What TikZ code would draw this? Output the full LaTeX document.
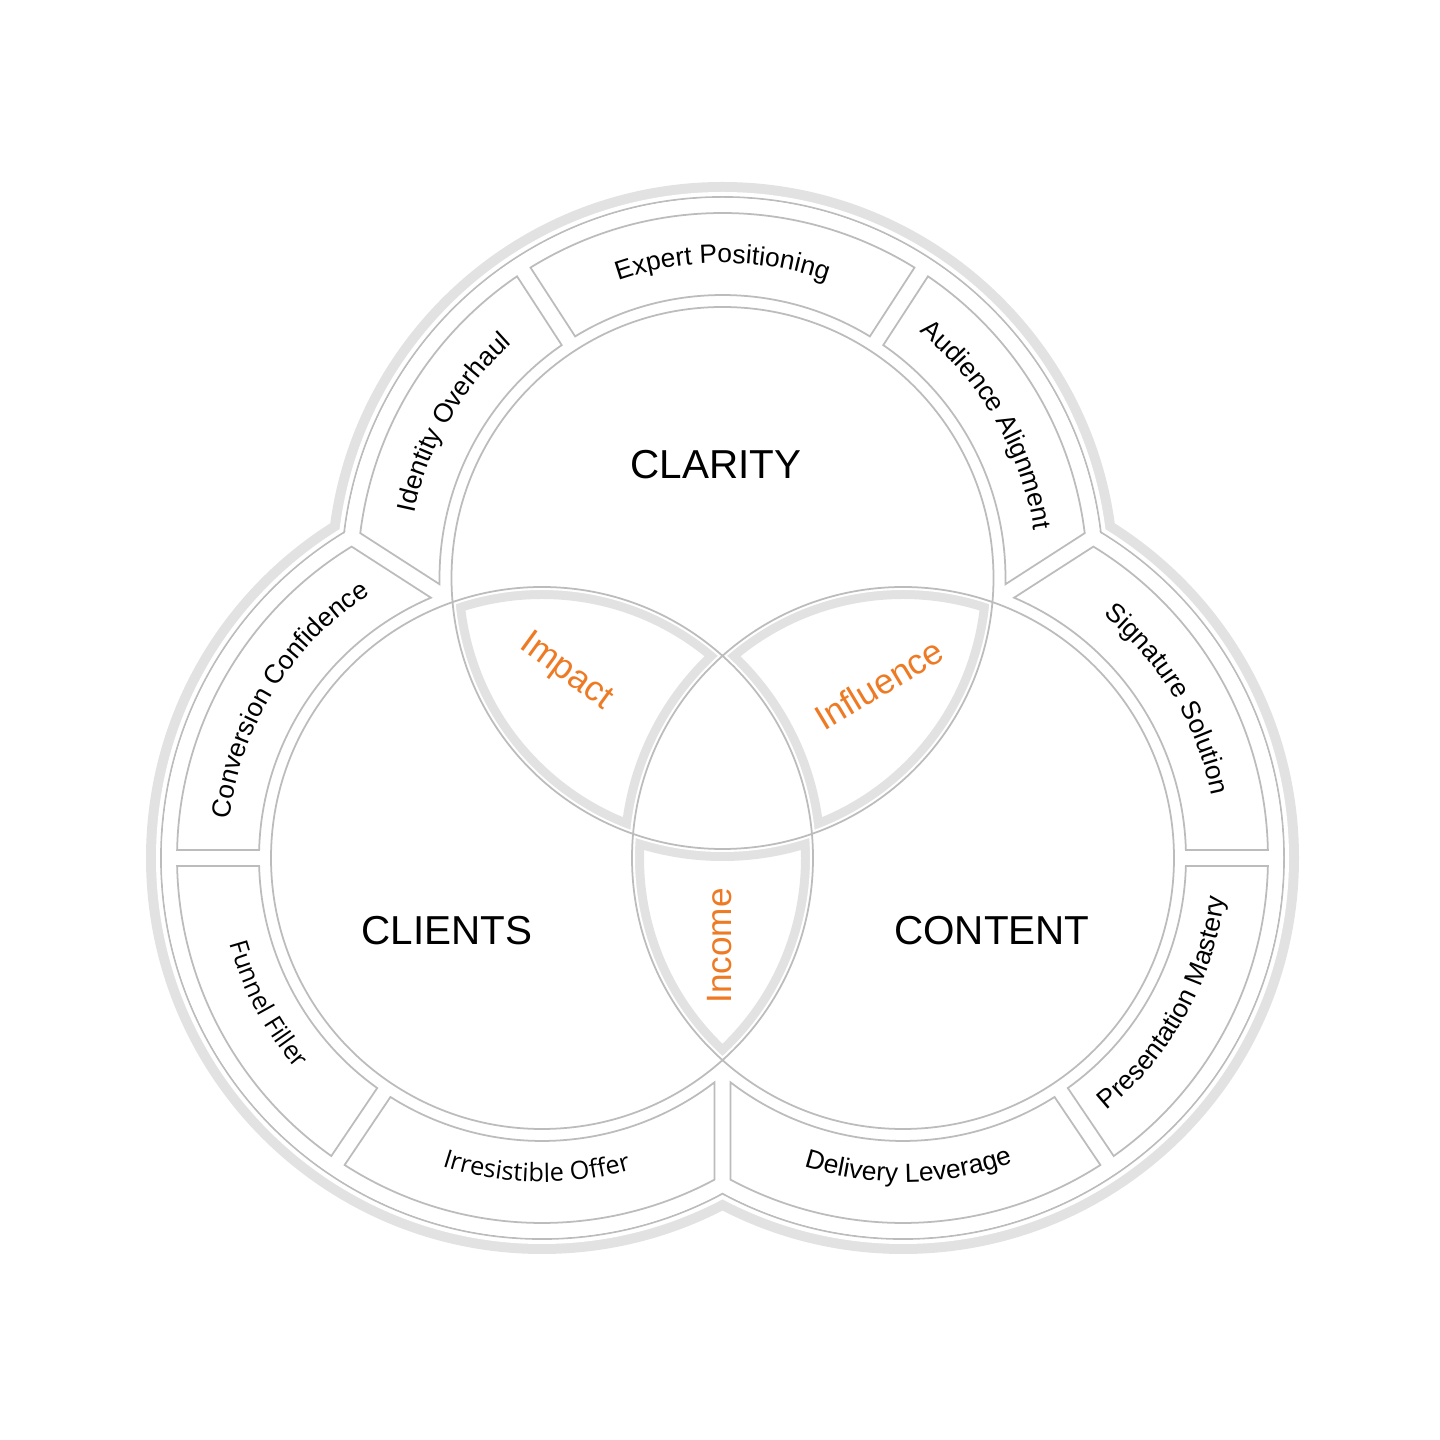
\documentclass[tikz,border=0pt]{standalone}
\usepackage{fontspec}
\setmainfont{Liberation Sans}
\newfontfamily\offerfont{Open Sans}
\usetikzlibrary{calc,decorations.text}
\definecolor{rimgray}{RGB}{188,188,188}
\definecolor{bandgray}{RGB}{226,226,226}
\definecolor{pairorange}{RGB}{238,122,36}

\newcommand{\circr}{2.71}
\newcommand{\segin}{2.83}
\newcommand{\segout}{3.65}
\newcommand{\segfont}{\fontsize{7.5}{9}\selectfont}
\newcommand{\offersize}{\offerfont\fontsize{7.2}{9}\selectfont}
% one box of the ring: centre, first edge (inner, outer angle), second edge (inner, outer angle)
\newcommand{\ringseg}[5]{%
  \draw[segbox] ($(#1)+(#3:\segout)$) arc[start angle=#3, end angle=#5, radius=\segout]
    -- ($(#1)+(#4:\segin)$) arc[start angle=#4, end angle=#2, radius=\segin] -- cycle;}
% text bent along the ring: centre, from, to, radius, text
\newcommand{\ringtext}[5]{%
  \path[decorate, decoration={text along path, text align=center, text={#5}}]
    ($(#1)+(#2:#4)$) arc[start angle=#2, end angle=#3, radius=#4];}

\begin{document}
\begin{tikzpicture}[
    segbox/.style={draw=rimgray, fill=white, line width=0.5pt},
    rim/.style={draw=rimgray, line width=0.5pt},
    lensband/.style={draw=bandgray, line width=0.24cm},
    lensgap/.style={draw=white, line width=0.06cm},
    mainlabel/.style={font=\fontsize{11.5}{13}\selectfont},
    pairlabel/.style={text=pairorange, font=\fontsize{10}{12}\selectfont}]
  \useasboundingbox (0,0) rectangle (14.4,14.4);
  \coordinate (A) at (7.225,8.62);
  \coordinate (B) at (5.42,5.82);
  \coordinate (C) at (9.03,5.82);
  % outer rim and its grey edge
  \fill[bandgray] (A) circle (3.96) (B) circle (3.96) (C) circle (3.96);
  \fill[white] (A) circle (3.86) (B) circle (3.86) (C) circle (3.86);
  \draw[rim] (A) circle (3.81) (B) circle (3.81) (C) circle (3.81);
  \fill[white] (A) circle (3.80) (B) circle (3.80) (C) circle (3.80);
  % clarity ring
  \ringseg{A}{124.62}{124.26}{181.27}{172.94}
  \ringseg{A}{58.62}{58.26}{121.38}{121.74}
  \ringseg{A}{-1.27}{7.06}{55.38}{55.74}
  % clients ring
  \ringseg{B}{113.11}{121.44}{178.38}{178.74}
  \ringseg{B}{181.62}{181.26}{234.38}{234.74}
  \ringseg{B}{237.62}{237.26}{307.56}{298.20}
  % content ring
  \ringseg{C}{1.62}{1.26}{66.89}{58.56}
  \ringseg{C}{-54.38}{-54.74}{-1.62}{-1.26}
  \ringseg{C}{-127.56}{-118.20}{-57.62}{-57.26}
  % lens borders
  \foreach \pa/\pb in {A/B,A/C,B/C}{
    \begin{scope}
      \clip (\pa) circle (\circr);
      \clip (\pb) circle (\circr);
      \draw[lensband] (A) circle (\circr) (B) circle (\circr) (C) circle (\circr);
      \draw[lensgap] (A) circle (\circr) (B) circle (\circr) (C) circle (\circr);
    \end{scope}}
  \begin{scope}
    \clip (A) circle (\circr);
    \clip (B) circle (\circr);
    \fill[white] (C) circle (\circr);
  \end{scope}
  \draw[rim] (A) circle (\circr) (B) circle (\circr) (C) circle (\circr);
  % labels
  \node[mainlabel] (clarity) at (7.16,9.75) {CLARITY};
  \node[mainlabel] (clients) at (4.47,5.09) {CLIENTS};
  \node[mainlabel] (content) at (9.92,5.09) {CONTENT};
  \node[pairlabel, rotate=-36] (impact) at (5.66,7.68) {Impact};
  \node[pairlabel, rotate=31] (influence) at (8.79,7.56) {Influence};
  \node[pairlabel, rotate=90] (income) at (7.20,4.94) {Income};
  \ringtext{A}{195}{105}{3.15}{|\segfont|Identity Overhaul}
  \ringtext{A}{135}{45}{3.15}{|\segfont|Expert Positioning}
  \ringtext{A}{75}{-15}{3.15}{|\segfont|Audience Alignment}
  \ringtext{B}{193}{103}{3.15}{|\segfont|Conversion Confidence}
  \ringtext{B}{163}{253}{3.24}{|\offersize|Funnel Filler}
  \ringtext{B}{224}{314}{3.24}{|\offersize|Irresistible Offer}
  \ringtext{C}{226}{316}{3.24}{|\segfont|Delivery Leverage}
  \ringtext{C}{286}{376}{3.24}{|\segfont|Presentation Mastery}
  \ringtext{C}{76}{-14}{3.15}{|\segfont|Signature Solution}
\end{tikzpicture}
\end{document}
